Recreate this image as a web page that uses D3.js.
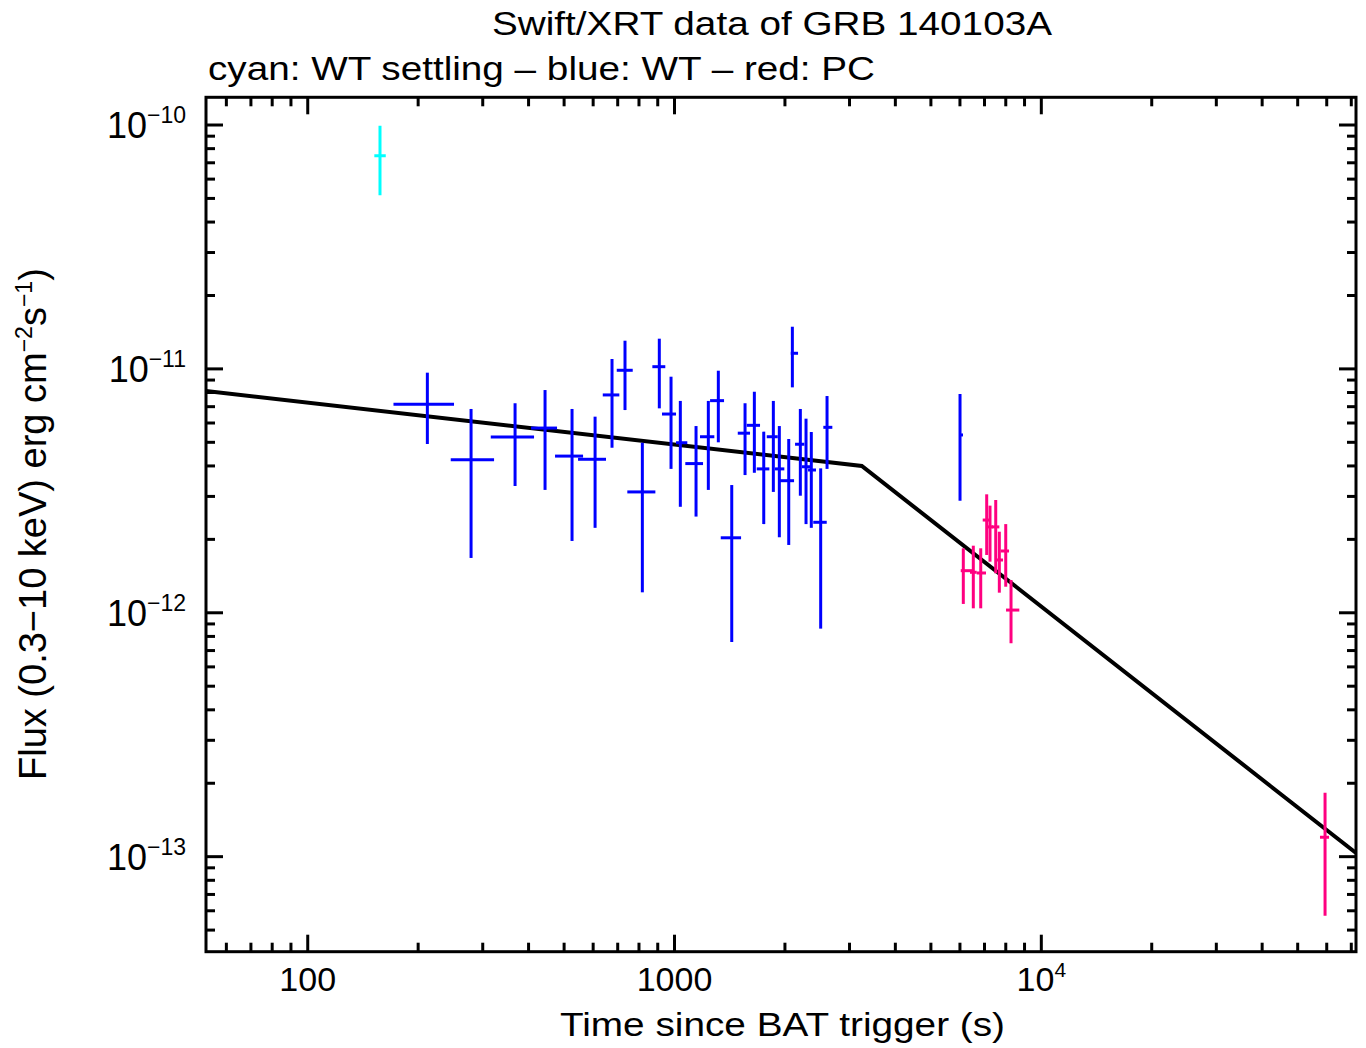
<!DOCTYPE html>
<html><head><meta charset="utf-8">
<script src="https://cdn.jsdelivr.net/npm/d3@7"></script>
<style>
body{margin:0;background:#fff;}
text{font-family:"Liberation Sans",Arial,Helvetica,sans-serif;fill:#000;}
</style>
</head><body><svg id="c" width="1366" height="1048"></svg>
<script>
// ---- data ----
const wtsTime=[157.4], wtsTimeLo=[151.9], wtsTimeHi=[163.2];
const wtsFlux=[7.48e-11], wtsFluxLo=[5.15e-11], wtsFluxHi=[9.93e-11];

const wtTime=[211.9,278.8,367.5,443.6,525.5,607.3,675.4,732.8,817.1,908.9,978.3,1037.1,1144.6,1236.4,1316.5,1432.2,1556.9,1650.6,1750.8,1859.6,1930.8,2048.2,2095.4,2203,2283,2360,2503,2605,6003];
const wtTimeLo=[171.3,245.4,315.5,406.3,472.3,545.7,637.3,695.8,743.5,870.1,924.5,1009.5,1070,1173.6,1250,1336.6,1487.4,1573.5,1675.5,1784.1,1879.3,1939.4,2074.3,2131,2226,2312,2389,2545,5965];
const wtTimeHi=[250.5,322.1,414.0,478.3,563.2,650.5,707.2,769.2,886.7,943.7,1009.5,1083.6,1196,1283.9,1364.6,1518.5,1606.4,1710.5,1813.5,1911.7,1992.3,2117.8,2171.5,2259,2341,2431,2600,2693,6117];
const wtFlux=[7.16e-12,4.24e-12,5.26e-12,5.72e-12,4.39e-12,4.26e-12,7.82e-12,9.87e-12,3.13e-12,1.021e-11,6.53e-12,4.98e-12,4.09e-12,5.27e-12,7.41e-12,2.03e-12,5.45e-12,5.87e-12,3.89e-12,5.27e-12,3.89e-12,3.48e-12,1.159e-11,4.91e-12,3.97e-12,3.85e-12,2.35e-12,5.76e-12,5.36e-12];
const wtFluxLo=[4.92e-12,1.678e-12,3.31e-12,3.19e-12,1.97e-12,2.23e-12,4.75e-12,6.78e-12,1.213e-12,6.89e-12,3.89e-12,2.72e-12,2.48e-12,3.19e-12,5.00e-12,7.59e-13,3.67e-12,3.75e-12,2.31e-12,3.13e-12,2.04e-12,1.897e-12,8.4e-12,3.02e-12,2.31e-12,2.23e-12,8.61e-13,3.89e-12,2.88e-12];
const wtFluxHi=[9.65e-12,6.85e-12,7.23e-12,8.19e-12,6.85e-12,6.37e-12,1.098e-11,1.305e-11,4.98e-12,1.33e-11,9.29e-12,7.39e-12,5.83e-12,7.39e-12,9.83e-12,3.34e-12,7.23e-12,8.06e-12,5.53e-12,7.39e-12,5.83e-12,5.16e-12,1.489e-11,6.85e-12,6.25e-12,5.51e-12,3.91e-12,7.74e-12,7.89e-12];

const pcTime=[6128,6525,6836,7097,7246,7511,7683,7998,8268,59370];
const pcTimeLo=[6030,6391,6666,6922,7110,7323,7525,7750,8013,57510];
const pcTimeHi=[6501,6666,7066,7214,7384,7683,7864,8166,8710,60880];
const pcFlux=[1.488e-12,1.466e-12,1.456e-12,2.40e-12,2.25e-12,2.25e-12,1.646e-12,1.792e-12,1.026e-12,1.201e-13];
const pcFluxLo=[1.087e-12,1.043e-12,1.043e-12,1.726e-12,1.62e-12,1.452e-12,1.209e-12,1.279e-12,7.5e-13,5.73e-14];
const pcFluxHi=[1.838e-12,1.884e-12,1.838e-12,3.06e-12,2.75e-12,2.90e-12,2.15e-12,2.31e-12,1.363e-12,1.83e-13];

const modelTime=[52.8,3240,72100];
const modelFlux=[8.11e-12,4.0e-12,1.035e-13];

const xDomain=[52.8,72100];
const yDomain=[4.077e-14,1.299e-10];
const xMajor=[100,1000,10000];
const xMajorLabels=[["100",""],["1000",""],["10","4"]];
const yMajor=[1e-10,1e-11,1e-12,1e-13];
const yMajorLabels=[["10","\u221210"],["10","\u221211"],["10","\u221212"],["10","\u221213"]];

const titleText="Swift/XRT data of GRB 140103A";
const subtitleText="cyan: WT settling \u2013 blue: WT \u2013 red: PC";
const xTitleText="Time since BAT trigger (s)";

// ---- layout ----
const L=206,R=1356,T=97.3,B=951.7;
const svg=d3.select("#c");
const x=d3.scaleLog().domain(xDomain).range([L,R]);
const y=d3.scaleLog().domain(yDomain).range([B,T]);

const isMajor=v=>Math.abs(Math.log10(v)-Math.round(Math.log10(v)))<1e-6;
const xMinor=x.ticks().filter(v=>!isMajor(v));
const yMinor=y.ticks().filter(v=>!isMajor(v));

const MAJ=17, MIN=9;
const tg=svg.append("g").attr("stroke","#000").attr("stroke-width",3);
xMajor.concat(xMinor).forEach(v=>{
  const len=isMajor(v)?MAJ:MIN, px=x(v);
  tg.append("line").attr("x1",px).attr("x2",px).attr("y1",B).attr("y2",B-len);
  tg.append("line").attr("x1",px).attr("x2",px).attr("y1",T).attr("y2",T+len);
});
yMajor.concat(yMinor).forEach(v=>{
  const len=isMajor(v)?MAJ:MIN, py=y(v);
  tg.append("line").attr("x1",L).attr("x2",L+len).attr("y1",py).attr("y2",py);
  tg.append("line").attr("x1",R).attr("x2",R-len).attr("y1",py).attr("y2",py);
});

// ---- model ----
svg.append("clipPath").attr("id","clp").append("rect").attr("x",L).attr("y",T).attr("width",R-L).attr("height",B-T);
svg.append("path")
  .datum(modelTime.map((t,i)=>[t,modelFlux[i]]))
  .attr("clip-path","url(#clp)")
  .attr("fill","none").attr("stroke","#000").attr("stroke-width",4)
  .attr("d",d3.line().x(d=>x(d[0])).y(d=>y(d[1])));

// ---- error bars ----
function series(t,tl,th,f,fl,fh,color){
  const g=svg.append("g").attr("stroke",color).attr("stroke-width",3).attr("clip-path","url(#clp)");
  const data=t.map((v,i)=>({t:v,tl:tl[i],th:th[i],f:f[i],fl:fl[i],fh:fh[i]}));
  g.selectAll("line.h").data(data).enter().append("line").attr("class","h")
    .attr("x1",d=>x(d.tl)).attr("x2",d=>x(d.th)).attr("y1",d=>y(d.f)).attr("y2",d=>y(d.f));
  g.selectAll("line.v").data(data).enter().append("line").attr("class","v")
    .attr("x1",d=>x(d.t)).attr("x2",d=>x(d.t)).attr("y1",d=>y(d.fl)).attr("y2",d=>y(d.fh));
}
series(wtTime,wtTimeLo,wtTimeHi,wtFlux,wtFluxLo,wtFluxHi,"#0000ff");
series(pcTime,pcTimeLo,pcTimeHi,pcFlux,pcFluxLo,pcFluxHi,"#ff0080");
series(wtsTime,wtsTimeLo,wtsTimeHi,wtsFlux,wtsFluxLo,wtsFluxHi,"#00ffff");

// ---- frame ----
svg.append("rect").attr("x",L).attr("y",T).attr("width",R-L).attr("height",B-T)
  .attr("fill","none").attr("stroke","#000").attr("stroke-width",3);

// ---- tick labels ----
xMajor.forEach((v,i)=>{
  const t=svg.append("text").attr("x",x(v)).attr("y",991).attr("text-anchor","middle").attr("font-size",34);
  t.append("tspan").text(xMajorLabels[i][0]);
  if(xMajorLabels[i][1]) t.append("tspan").attr("dy",-14).attr("font-size",21).text(xMajorLabels[i][1]);
});
yMajor.forEach((v,i)=>{
  const t=svg.append("text").attr("x",186).attr("y",y(v)+13).attr("text-anchor","end").attr("font-size",36);
  t.append("tspan").text(yMajorLabels[i][0]);
  t.append("tspan").attr("dy",-15).attr("font-size",23).text(yMajorLabels[i][1]);
});

// ---- titles ----
svg.append("text").attr("x",492).attr("y",35).attr("font-size",34)
  .attr("textLength",560).attr("lengthAdjust","spacingAndGlyphs").text(titleText);
svg.append("text").attr("x",208).attr("y",80).attr("font-size",34)
  .attr("textLength",667).attr("lengthAdjust","spacingAndGlyphs").text(subtitleText);
svg.append("text").attr("x",560).attr("y",1036).attr("font-size",34)
  .attr("textLength",445).attr("lengthAdjust","spacingAndGlyphs").text(xTitleText);

const yt=svg.append("text").attr("transform","translate(46,780) rotate(-90)").attr("font-size",38);
yt.append("tspan").text("Flux (0.3\u221210 keV) erg cm");
yt.append("tspan").attr("dy",-14).attr("font-size",23).text("\u22122");
yt.append("tspan").attr("dy",14).text("s");
yt.append("tspan").attr("dy",-14).attr("font-size",23).text("\u22121");
yt.append("tspan").attr("dy",14).text(")");
</script>
</body></html>
